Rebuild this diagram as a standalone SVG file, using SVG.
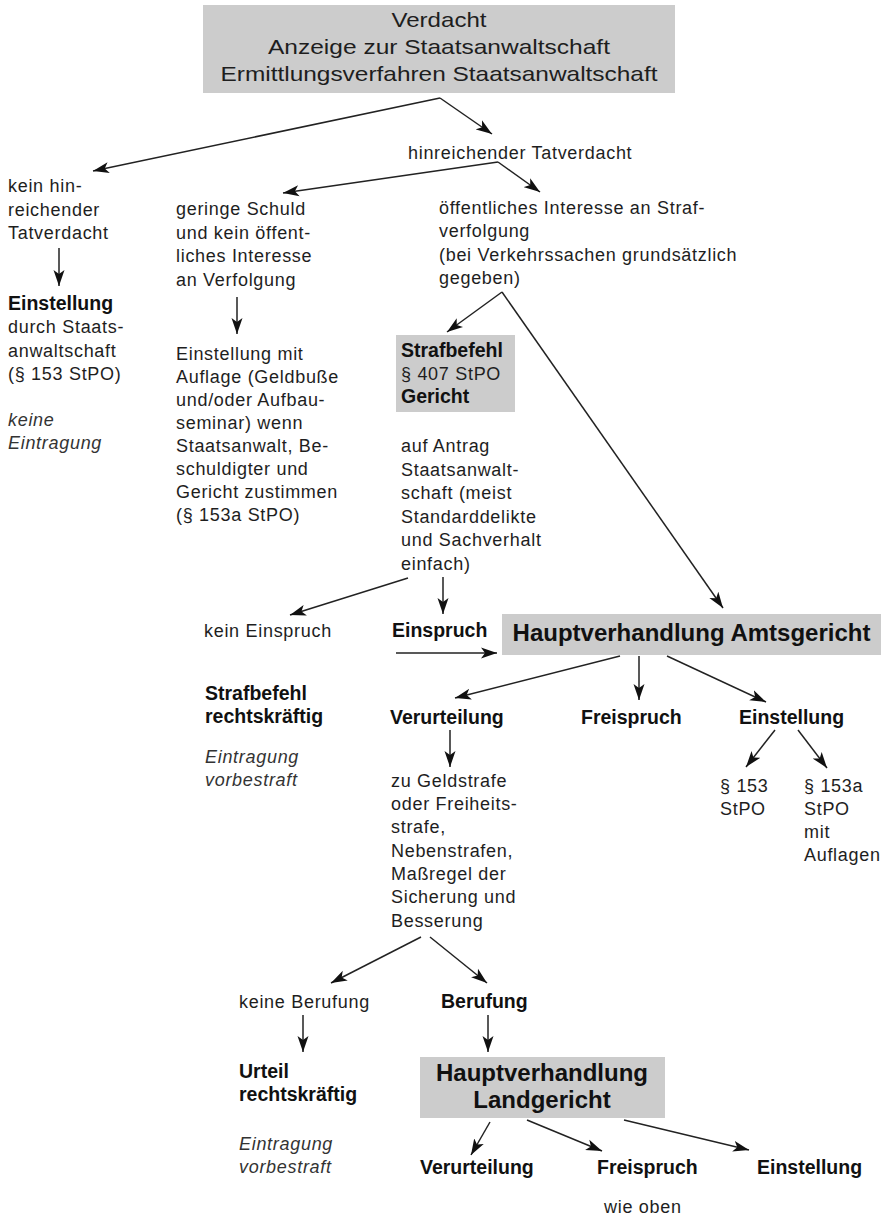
<svg xmlns="http://www.w3.org/2000/svg" width="887" height="1218" viewBox="0 0 887 1218">
<style>
text{font-family:"Liberation Sans",Arial,Helvetica,sans-serif;fill:#1e1e1e}
.t{font-size:18px;letter-spacing:0.7px}
.i{font-size:18px;letter-spacing:0.7px;font-style:italic;fill:#333}
.b{font-size:19.5px;font-weight:bold;fill:#111}
.big{font-size:24px;font-weight:bold;fill:#111;text-anchor:middle}
.top{font-size:21px;text-anchor:middle}
.box{fill:#cccccc}
.conn line{stroke:#222;stroke-width:1.5;fill:none;marker-end:url(#ah)}
</style>
<defs>
<marker id="ah" markerUnits="userSpaceOnUse" markerWidth="17" markerHeight="12" refX="16" refY="6" orient="auto" viewBox="0 0 17 12">
<path d="M0,0.5 L16,6 L0,11.5 L4,6 z" fill="#111"/>
</marker>
</defs>

<g id="n-verdacht">
<rect class="box" x="203" y="5" width="472" height="88"/>
<text class="top" x="439" y="27" textLength="95" lengthAdjust="spacingAndGlyphs">Verdacht</text>
<text class="top" x="439" y="54" textLength="342" lengthAdjust="spacingAndGlyphs">Anzeige zur Staatsanwaltschaft</text>
<text class="top" x="439" y="81" textLength="437" lengthAdjust="spacingAndGlyphs">Ermittlungsverfahren Staatsanwaltschaft</text>
</g>

<g id="n-hinreichend">
<text class="t" x="408" y="159">hinreichender Tatverdacht</text>
</g>

<g id="n-kein-hinreichend">
<text class="t" x="8" y="192">kein hin-</text>
<text class="t" x="8" y="216">reichender</text>
<text class="t" x="8" y="239">Tatverdacht</text>
</g>

<g id="n-einstellung-sta">
<text class="b" x="8" y="310">Einstellung</text>
<text class="t" x="8" y="333">durch Staats-</text>
<text class="t" x="8" y="357">anwaltschaft</text>
<text class="t" x="8" y="380">(§ 153 StPO)</text>
<text class="i" x="8" y="426">keine</text>
<text class="i" x="8" y="449">Eintragung</text>
</g>

<g id="n-geringe-schuld">
<text class="t" x="176" y="215">geringe Schuld</text>
<text class="t" x="176" y="239">und kein öffent-</text>
<text class="t" x="176" y="262">liches Interesse</text>
<text class="t" x="176" y="286">an Verfolgung</text>
</g>

<g id="n-einstellung-auflage">
<text class="t" x="176" y="360">Einstellung mit</text>
<text class="t" x="176" y="383">Auflage (Geldbuße</text>
<text class="t" x="176" y="406">und/oder Aufbau-</text>
<text class="t" x="176" y="429">seminar) wenn</text>
<text class="t" x="176" y="452">Staatsanwalt, Be-</text>
<text class="t" x="176" y="475">schuldigter und</text>
<text class="t" x="176" y="498">Gericht zustimmen</text>
<text class="t" x="176" y="521">(§ 153a StPO)</text>
</g>

<g id="n-oeffentliches-interesse">
<text class="t" x="439" y="214">öffentliches Interesse an Straf-</text>
<text class="t" x="439" y="237">verfolgung</text>
<text class="t" x="439" y="261">(bei Verkehrssachen grundsätzlich</text>
<text class="t" x="439" y="284">gegeben)</text>
</g>

<g id="n-strafbefehl">
<rect class="box" x="396" y="335" width="119" height="77"/>
<text class="b" x="401" y="357">Strafbefehl</text>
<text class="t" x="401" y="380">§ 407 StPO</text>
<text class="b" x="401" y="403">Gericht</text>
</g>

<g id="n-auf-antrag">
<text class="t" x="401" y="452">auf Antrag</text>
<text class="t" x="401" y="475.5">Staatsanwalt-</text>
<text class="t" x="401" y="499">schaft (meist</text>
<text class="t" x="401" y="522.5">Standarddelikte</text>
<text class="t" x="401" y="546">und Sachverhalt</text>
<text class="t" x="401" y="569.5">einfach)</text>
</g>

<g id="n-kein-einspruch">
<text class="t" x="204" y="637">kein Einspruch</text>
</g>

<g id="n-einspruch">
<text class="b" x="392" y="637">Einspruch</text>
</g>

<g id="n-hv-amtsgericht">
<rect class="box" x="502" y="614" width="379" height="41"/>
<text class="big" x="691.5" y="641">Hauptverhandlung Amtsgericht</text>
</g>

<g id="n-strafbefehl-rk">
<text class="b" x="205" y="700">Strafbefehl</text>
<text class="b" x="205" y="723">rechtskräftig</text>
<text class="i" x="205" y="763">Eintragung</text>
<text class="i" x="205" y="786">vorbestraft</text>
</g>

<g id="n-verurteilung">
<text class="b" x="390" y="724">Verurteilung</text>
</g>

<g id="n-freispruch">
<text class="b" x="581" y="724">Freispruch</text>
</g>

<g id="n-einstellung">
<text class="b" x="739" y="724">Einstellung</text>
</g>

<g id="n-153">
<text class="t" x="720" y="792">§ 153</text>
<text class="t" x="720" y="815">StPO</text>
</g>

<g id="n-153a">
<text class="t" x="804" y="792">§ 153a</text>
<text class="t" x="804" y="815">StPO</text>
<text class="t" x="804" y="838">mit</text>
<text class="t" x="804" y="861">Auflagen</text>
</g>

<g id="n-strafen">
<text class="t" x="391" y="787">zu Geldstrafe</text>
<text class="t" x="391" y="810">oder Freiheits-</text>
<text class="t" x="391" y="833">strafe,</text>
<text class="t" x="391" y="857">Nebenstrafen,</text>
<text class="t" x="391" y="880">Maßregel der</text>
<text class="t" x="391" y="903">Sicherung und</text>
<text class="t" x="391" y="927">Besserung</text>
</g>

<g id="n-keine-berufung">
<text class="t" x="239" y="1008">keine Berufung</text>
</g>

<g id="n-berufung">
<text class="b" x="441" y="1008">Berufung</text>
</g>

<g id="n-urteil-rk">
<text class="b" x="239" y="1078">Urteil</text>
<text class="b" x="239" y="1101">rechtskräftig</text>
<text class="i" x="239" y="1150">Eintragung</text>
<text class="i" x="239" y="1173">vorbestraft</text>
</g>

<g id="n-hv-landgericht">
<rect class="box" x="420" y="1057" width="245" height="61"/>
<text class="big" x="542" y="1081">Hauptverhandlung</text>
<text class="big" x="542" y="1108">Landgericht</text>
</g>

<g id="n-lg-verurteilung">
<text class="b" x="420" y="1174">Verurteilung</text>
</g>

<g id="n-lg-freispruch">
<text class="b" x="597" y="1174">Freispruch</text>
<text class="t" x="604" y="1213">wie oben</text>
</g>

<g id="n-lg-einstellung">
<text class="b" x="757" y="1174">Einstellung</text>
</g>

<g id="connectors" class="conn">
<line x1="440" y1="98" x2="93" y2="171"/>
<line x1="440" y1="98" x2="492" y2="134"/>
<line x1="498" y1="162" x2="283" y2="193"/>
<line x1="498" y1="162" x2="540" y2="192"/>
<line x1="59" y1="248" x2="59" y2="286"/>
<line x1="237" y1="297" x2="237" y2="334"/>
<line x1="502" y1="292" x2="447" y2="332"/>
<line x1="502" y1="292" x2="723" y2="608"/>
<line x1="408" y1="578" x2="290" y2="615"/>
<line x1="443" y1="577" x2="443" y2="614"/>
<line x1="396" y1="653" x2="497" y2="653"/>
<line x1="620" y1="656" x2="455" y2="698"/>
<line x1="639" y1="656" x2="639" y2="700"/>
<line x1="667" y1="656" x2="766" y2="702"/>
<line x1="450" y1="730" x2="450" y2="767"/>
<line x1="775" y1="730" x2="746" y2="767"/>
<line x1="798" y1="730" x2="827" y2="768"/>
<line x1="421" y1="937" x2="331" y2="983"/>
<line x1="430" y1="937" x2="487" y2="983"/>
<line x1="303" y1="1015" x2="303" y2="1052"/>
<line x1="488" y1="1015" x2="488" y2="1052"/>
<line x1="490" y1="1122" x2="471" y2="1155"/>
<line x1="527" y1="1120" x2="602" y2="1151"/>
<line x1="624" y1="1120" x2="749" y2="1150"/>
</g>
</svg>
